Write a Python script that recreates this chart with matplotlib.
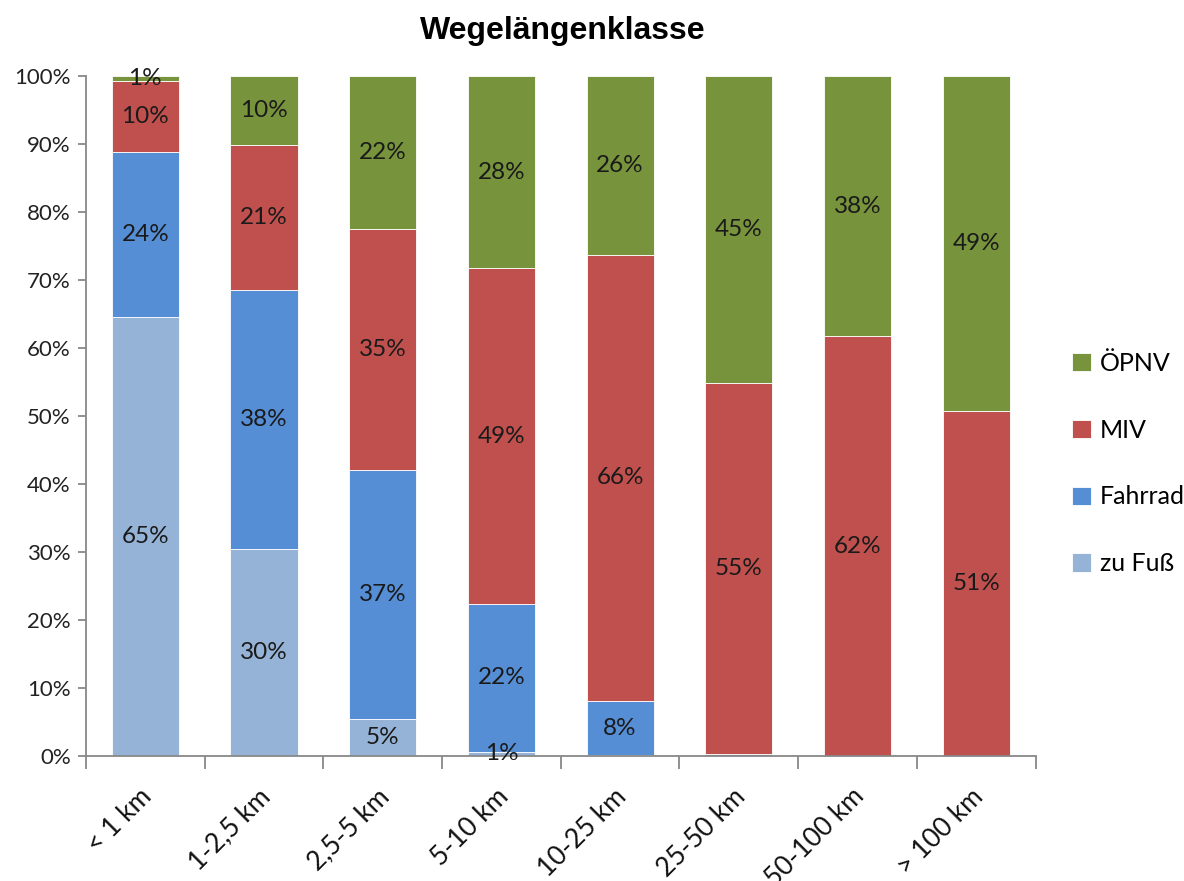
#!/usr/bin/env python3

# Stacked share of transport modes per trip length class
# Usage:
#   $ python3 plot.py

import matplotlib.pyplot as plt
import matplotlib.transforms as mtransforms
import numpy as np

plt.rcParams['font.family'] = ['Lato', 'DejaVu Sans']

# Data (percent of trips)
categories = ['< 1 km', '1-2,5 km', '2,5-5 km', '5-10 km',
              '10-25 km', '25-50 km', '50-100 km', '> 100 km']
zu_fuss = [64.6, 30.4, 5.4, 0.6, 0.1, 0.0, 0.0, 0.0]
fahrrad = [24.3, 38.1, 36.7, 21.8, 8.0, 0.3, 0.0, 0.0]
miv = [10.4, 21.4, 35.4, 49.3, 65.6, 54.6, 61.7, 50.8]
oepnv = [0.7, 10.1, 22.5, 28.3, 26.3, 45.1, 38.3, 49.2]

series_names = ['zu Fuß', 'Fahrrad', 'MIV', 'ÖPNV']
series_vals = [zu_fuss, fahrrad, miv, oepnv]
series_colors = ['#95B3D7', '#558ED5', '#C0504D', '#77933C']

y_ticks = [0, 10, 20, 30, 40, 50, 60, 70, 80, 90, 100]


def main():

  fig = plt.figure(figsize=(11.84, 8.81), dpi=100)
  ax = fig.add_axes([0.0726, 0.1419, 0.802, 0.7718])

  x = np.arange(len(categories))
  bottom = np.zeros(len(categories))
  handles = []

  for name, vals, color in zip(series_names, series_vals, series_colors):
    vals = np.array(vals)
    bars = ax.bar(x, vals, 0.565, bottom=bottom, color=color,
                  edgecolor='white', linewidth=0.6, label=name)
    handles.append(bars)
    # Data labels in the middle of each segment, skip near-empty ones
    for xi, v, b in zip(x, vals, bottom):
      if v >= 0.5:
        ax.text(xi, b + v / 2.0, '%.0f%%' % v, ha='center', va='center',
                fontsize=17.5, color='#1a1a1a')
    bottom = bottom + vals

  ax.set_xlim(-0.5, len(categories) - 0.5)
  ax.set_ylim(0, 100)

  # Spines like Excel: grey left and bottom axis only
  for side in ['top', 'right']:
    ax.spines[side].set_visible(False)
  for side in ['left', 'bottom']:
    ax.spines[side].set_color('#888888')
    ax.spines[side].set_linewidth(1.3)

  ax.set_yticks(y_ticks)
  ax.set_yticklabels(['%d%%' % t for t in y_ticks])
  ax.tick_params(axis='y', direction='out', length=6, width=1.3,
                 color='#888888', labelsize=16, labelcolor='#222222', pad=5)

  # Category labels on major ticks, tick marks on category boundaries
  ax.set_xticks(x)
  ax.set_xticklabels(categories, rotation=45, ha='right', va='top',
                     rotation_mode='anchor', fontsize=19, color='#111111')
  ax.tick_params(axis='x', which='major', length=0, pad=20)
  offset = mtransforms.ScaledTranslation(-0.06, 0, fig.dpi_scale_trans)
  for lbl in ax.get_xticklabels():
    lbl.set_transform(lbl.get_transform() + offset)
  ax.set_xticks(np.arange(len(categories) + 1) - 0.5, minor=True)
  ax.tick_params(axis='x', which='minor', direction='out', length=9,
                 width=1.3, color='#888888')

  fig.suptitle('Wegelängenklasse', x=0.475, y=0.982, fontsize=23,
               fontweight='bold', family=['Liberation Sans', 'DejaVu Sans'])

  ax.legend(handles[::-1], series_names[::-1], loc='center left',
            bbox_to_anchor=(1.015, 0.43), frameon=False, fontsize=18,
            labelspacing=1.75, handlelength=0.75, handleheight=0.75,
            handletextpad=0.35)

  fig.savefig('out.png', dpi=100)


if __name__ == '__main__':
  main()
